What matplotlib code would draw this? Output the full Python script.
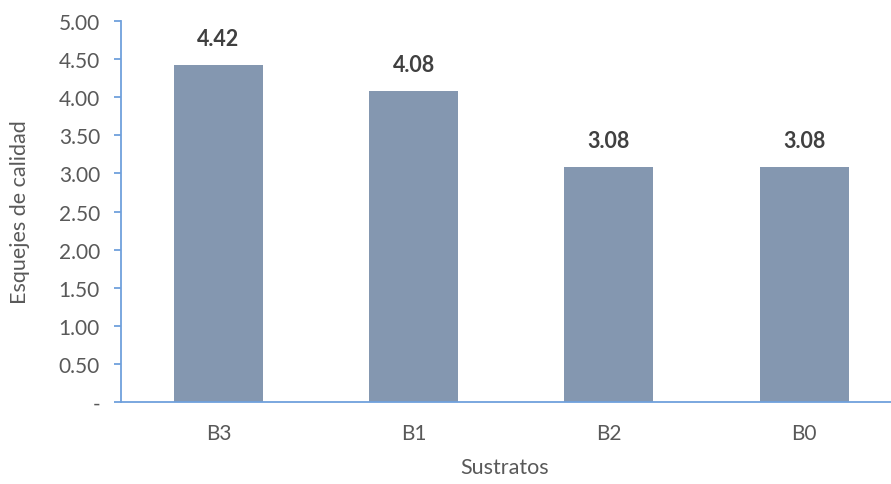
import matplotlib
matplotlib.use("Agg")
import matplotlib.pyplot as plt

sustratos = ["B3", "B1", "B2", "B0"]
esquejes = [4.42, 4.08, 3.08, 3.08]
y_ticks = [0, 0.5, 1.0, 1.5, 2.0, 2.5, 3.0, 3.5, 4.0, 4.5, 5.0]
y_tick_labels = ["-", "0.50", "1.00", "1.50", "2.00", "2.50", "3.00", "3.50", "4.00", "4.50", "5.00"]

plt.rcParams["font.family"] = ["Lato", "DejaVu Sans"]
text_color = "#595959"
axis_color = "#6FA0DC"
bar_color = "#8497B0"

fig = plt.figure(figsize=(8.91, 4.85), dpi=100)
# the plot area runs slightly past the right edge of the figure
ax = fig.add_axes([120.8 / 891, 0.169, 781 / 891, 0.7856])

x = range(len(sustratos))
ax.bar(x, esquejes, width=0.456, color=bar_color, zorder=2)
for xi, v in zip(x, esquejes):
    ax.annotate(f"{v:.2f}", (xi, v), xytext=(0, 11.5), textcoords="offset points",
                ha="center", va="bottom", fontsize=15.5, fontweight="bold", color="#404040")

ax.set_xlim(-0.5, len(sustratos) - 0.5)
ax.set_ylim(0, 5)
ax.set_yticks(y_ticks)
ax.set_yticklabels(y_tick_labels)
ax.set_xticks(list(x))
ax.set_xticklabels(sustratos)

for side in ("top", "right"):
    ax.spines[side].set_visible(False)
for side in ("left", "bottom"):
    ax.spines[side].set_color(axis_color)
    ax.spines[side].set_linewidth(1.3)

ax.tick_params(axis="y", colors=text_color, labelsize=15, length=5, width=1.3,
               color=axis_color, pad=10)
ax.tick_params(axis="x", colors=text_color, labelsize=15, length=0, pad=15)

fig.text(505 / 891, 1 - 468 / 485, "Sustratos", fontsize=15.5, color=text_color,
         ha="center", va="center")
fig.text(20 / 891, 1 - 212 / 485, "Esquejes de calidad", fontsize=15.5, color=text_color,
         ha="center", va="center", rotation=90)

fig.savefig("out.png", dpi=100)
